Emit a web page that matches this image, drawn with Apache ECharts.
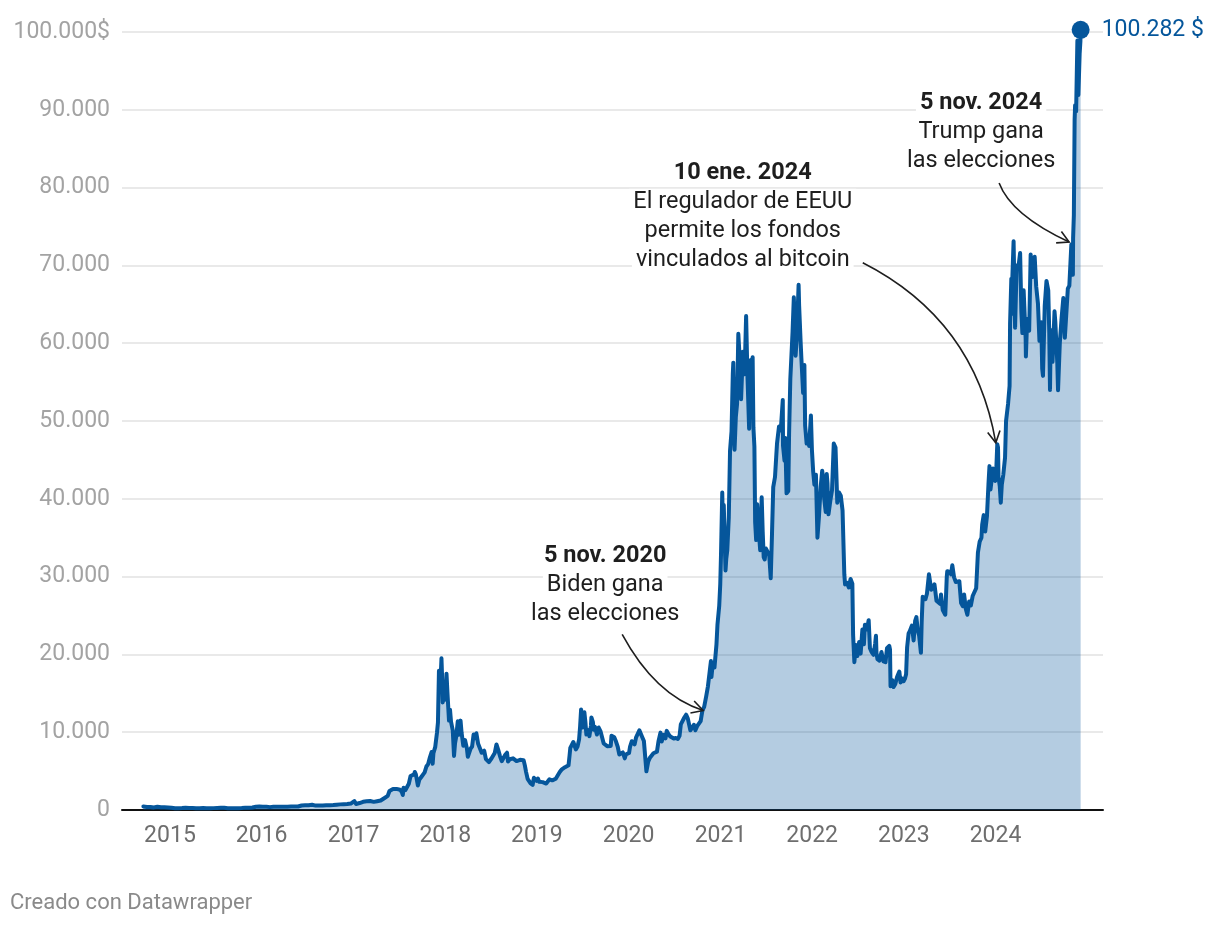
<!DOCTYPE html>
<html>
<head>
<meta charset="utf-8">
<script src="https://cdn.jsdelivr.net/npm/echarts@6/dist/echarts.min.js"></script>
<style>html,body{margin:0;padding:0;background:#fff}#c{width:1220px;height:926px}</style>
</head>
<body>
<div id="c"></div>
<script>
// ---------- DATA (approximate weekly BTC prices, USD) ----------
const btc2014 = [['2014-09-17',457],['2014-09-24',423],['2014-10-01',383],['2014-10-08',352],['2014-10-15',394],['2014-10-22',383],['2014-10-29',334],['2014-11-05',339],['2014-11-12',423],['2014-11-19',380],['2014-11-26',367],['2014-12-03',375],['2014-12-10',345],['2014-12-17',319],['2014-12-24',322],['2014-12-31',320]];
const btc2015 = [['2015-01-07',292],['2015-01-14',178],['2015-01-21',227],['2015-01-28',233],['2015-02-04',227],['2015-02-11',220],['2015-02-18',243],['2015-02-25',237],['2015-03-04',276],['2015-03-11',296],['2015-03-18',256],['2015-03-25',246],['2015-04-01',247],['2015-04-08',245],['2015-04-15',219],['2015-04-22',235],['2015-04-29',225],['2015-05-06',236],['2015-05-13',242],['2015-05-20',234],['2015-05-27',237],['2015-06-03',225],['2015-06-10',229],['2015-06-17',249],['2015-06-24',241],['2015-07-01',258],['2015-07-08',270],['2015-07-15',285],['2015-07-22',277],['2015-07-29',288],['2015-08-05',281],['2015-08-12',267],['2015-08-19',226],['2015-08-26',224],['2015-09-02',228],['2015-09-09',238],['2015-09-16',229],['2015-09-23',230],['2015-09-30',236],['2015-10-07',246],['2015-10-14',253],['2015-10-21',266],['2015-10-28',304],['2015-11-04',403],['2015-11-11',304],['2015-11-18',335],['2015-11-25',328],['2015-12-02',359],['2015-12-09',417],['2015-12-16',454],['2015-12-23',443],['2015-12-30',426]];
const btc2016 = [['2016-01-06',431],['2016-01-13',432],['2016-01-20',420],['2016-01-27',395],['2016-02-03',368],['2016-02-10',381],['2016-02-17',422],['2016-02-24',423],['2016-03-02',422],['2016-03-09',412],['2016-03-16',416],['2016-03-23',418],['2016-03-30',414],['2016-04-06',421],['2016-04-13',424],['2016-04-20',441],['2016-04-27',446],['2016-05-04',447],['2016-05-11',452],['2016-05-18',454],['2016-05-25',450],['2016-06-01',536],['2016-06-08',581],['2016-06-15',694],['2016-06-22',597],['2016-06-29',640],['2016-07-06',611],['2016-07-13',653],['2016-07-20',665],['2016-07-27',654],['2016-08-03',566],['2016-08-10',592],['2016-08-17',574],['2016-08-24',580],['2016-08-31',575],['2016-09-07',614],['2016-09-14',609],['2016-09-21',596],['2016-09-28',605],['2016-10-05',612],['2016-10-12',636],['2016-10-19',630],['2016-10-26',678],['2016-11-02',742],['2016-11-09',723],['2016-11-16',744],['2016-11-23',740],['2016-11-30',742],['2016-12-07',767],['2016-12-14',779],['2016-12-21',834],['2016-12-28',975]];
const btc2017 = [['2017-01-04',1154],['2017-01-11',777],['2017-01-18',871],['2017-01-25',893],['2017-02-01',989],['2017-02-08',1055],['2017-02-15',1008],['2017-02-22',1126],['2017-03-01',1222],['2017-03-08',1150],['2017-03-15',1253],['2017-03-22',1045],['2017-03-29',1040],['2017-04-05',1134],['2017-04-12',1218],['2017-04-19',1217],['2017-04-26',1318],['2017-05-03',1507],['2017-05-10',1756],['2017-05-17',1809],['2017-05-24',2446],['2017-05-31',2303],['2017-06-07',2693],['2017-06-14',2444],['2017-06-21',2709],['2017-06-28',2589],['2017-07-05',2602],['2017-07-12',2334],['2017-07-16',1930],['2017-07-19',2864],['2017-07-26',2544],['2017-08-02',2725],['2017-08-09',3379],['2017-08-16',4376],['2017-08-23',4137],['2017-08-30',4579],['2017-09-02',4892],['2017-09-06',4597],['2017-09-14',3154],['2017-09-20',3906],['2017-09-27',4212],['2017-10-04',4225],['2017-10-11',4829],['2017-10-18',5590],['2017-10-25',5904],['2017-11-01',6767],['2017-11-08',7459],['2017-11-12',5950],['2017-11-15',7315],['2017-11-22',8077],['2017-11-29',9889],['2017-12-03',11246],['2017-12-07',17899],['2017-12-10',15455],['2017-12-13',16408],['2017-12-17',19497],['2017-12-20',16624],['2017-12-22',13831],['2017-12-27',15838],['2017-12-31',14156]];
const btc2018 = [['2018-01-03',15201],['2018-01-06',17527],['2018-01-10',14973],['2018-01-16',11490],['2018-01-20',12899],['2018-01-24',11359],['2018-01-31',10221],['2018-02-05',6955],['2018-02-09',8556],['2018-02-14',9494],['2018-02-20',11403],['2018-02-24',9664],['2018-03-03',11489],['2018-03-07',9951],['2018-03-14',8270],['2018-03-18',8224],['2018-03-21',8989],['2018-03-28',7960],['2018-04-01',6844],['2018-04-06',6636],['2018-04-12',7895],['2018-04-18',8163],['2018-04-24',9697],['2018-04-30',9241],['2018-05-05',9858],['2018-05-12',8504],['2018-05-19',8247],['2018-05-26',7355],['2018-05-29',7502],['2018-06-05',7625],['2018-06-12',6545],['2018-06-19',6742],['2018-06-24',6162],['2018-06-29',6184],['2018-07-04',6620],['2018-07-10',6385],['2018-07-17',7322],['2018-07-24',8425],['2018-07-31',7730],['2018-08-07',6933],['2018-08-14',6274],['2018-08-21',6489],['2018-08-28',7096],['2018-09-04',7367],['2018-09-08',6225],['2018-09-15',6519],['2018-09-21',6750],['2018-09-28',6644],['2018-10-05',6595],['2018-10-12',6291],['2018-10-19',6480],['2018-10-26',6446],['2018-11-02',6390],['2018-11-09',6411],['2018-11-14',5738],['2018-11-19',4871],['2018-11-22',4451],['2018-11-25',4009],['2018-12-01',4214],['2018-12-07',3419],['2018-12-15',3236],['2018-12-20',4134],['2018-12-24',4014],['2018-12-31',3743]];
const btc2019 = [['2019-01-05',4041],['2019-01-10',3629],['2019-01-17',3617],['2019-01-24',3584],['2019-01-31',3458],['2019-02-07',3400],['2019-02-14',3570],['2019-02-20',3940],['2019-02-24',3833],['2019-03-03',3810],['2019-03-10',3922],['2019-03-17',4025],['2019-03-24',3990],['2019-04-02',4880],['2019-04-09',5175],['2019-04-16',5250],['2019-04-23',5500],['2019-04-30',5350],['2019-05-07',5750],['2019-05-11',6990],['2019-05-14',7990],['2019-05-20',8000],['2019-05-26',8740],['2019-05-30',8660],['2019-06-05',7790],['2019-06-12',8170],['2019-06-18',9080],['2019-06-22',10700],['2019-06-26',12930],['2019-06-28',12400],['2019-07-02',10590],['2019-07-09',12570],['2019-07-13',11330],['2019-07-17',9700],['2019-07-22',10300],['2019-07-29',9500],['2019-08-04',10800],['2019-08-06',11900],['2019-08-12',11300],['2019-08-15',10300],['2019-08-20',10700],['2019-08-28',9700],['2019-09-04',10600],['2019-09-11',10150],['2019-09-18',10200],['2019-09-24',8550],['2019-10-01',8300],['2019-10-08',8200],['2019-10-15',8160],['2019-10-22',8240],['2019-10-25',9550],['2019-10-29',9430],['2019-11-05',9340],['2019-11-12',8800],['2019-11-19',8100],['2019-11-25',7140],['2019-12-02',7300],['2019-12-09',7400],['2019-12-17',6640],['2019-12-21',7140],['2019-12-28',7300]];
const btc2020 = [['2020-01-03',7340],['2020-01-07',8160],['2020-01-14',8840],['2020-01-19',8700],['2020-01-25',8440],['2020-01-31',9350],['2020-02-06',9750],['2020-02-10',9850],['2020-02-13',10240],['2020-02-18',10180],['2020-02-25',9320],['2020-03-02',8870],['2020-03-07',8910],['2020-03-12',4970],['2020-03-16',5010],['2020-03-19',6190],['2020-03-26',6730],['2020-04-02',6810],['2020-04-09',7300],['2020-04-16',7120],['2020-04-23',7500],['2020-04-29',8800],['2020-05-07',9950],['2020-05-12',8800],['2020-05-18',9670],['2020-05-27',9210],['2020-06-01',10170],['2020-06-08',9750],['2020-06-15',9450],['2020-06-22',9650],['2020-06-29',9190],['2020-07-07',9250],['2020-07-15',9130],['2020-07-22',9530],['2020-07-27',11000],['2020-08-02',11050],['2020-08-10',11890],['2020-08-17',12250],['2020-08-24',11750],['2020-08-31',11680],['2020-09-03',10240],['2020-09-10',10370],['2020-09-17',10950],['2020-09-23',10250],['2020-09-30',10780],['2020-10-07',10600],['2020-10-14',11430],['2020-10-21',12800],['2020-10-28',13270],['2020-11-05',14600],['2020-11-12',15900],['2020-11-19',17800],['2020-11-24',19150],['2020-11-26',17100],['2020-12-01',18800],['2020-12-08',18320],['2020-12-16',21300],['2020-12-20',23850],['2020-12-27',26270],['2020-12-31',29000]];
const btc2021 = [['2021-01-03',32780],['2021-01-08',40800],['2021-01-11',35500],['2021-01-14',39200],['2021-01-21',30800],['2021-01-24',32300],['2021-01-28',33400],['2021-02-03',37600],['2021-02-08',46200],['2021-02-14',48700],['2021-02-19',56000],['2021-02-21',57500],['2021-02-26',46300],['2021-03-03',50500],['2021-03-08',52200],['2021-03-13',61200],['2021-03-17',58900],['2021-03-24',52800],['2021-03-31',58900],['2021-04-07',56000],['2021-04-13',63500],['2021-04-18',56200],['2021-04-25',49000],['2021-04-30',57800],['2021-05-03',56600],['2021-05-09',58200],['2021-05-12',49200],['2021-05-16',46700],['2021-05-19',37000],['2021-05-23',34700],['2021-05-27',39300],['2021-06-01',36600],['2021-06-08',33400],['2021-06-14',40200],['2021-06-18',35800],['2021-06-22',32500],['2021-06-26',32200],['2021-07-01',33600],['2021-07-07',33800],['2021-07-14',32800],['2021-07-20',29800],['2021-07-25',35400],['2021-07-30',41500],['2021-08-06',42800],['2021-08-14',47100],['2021-08-22',49300],['2021-08-29',48800],['2021-09-06',52700],['2021-09-07',46800],['2021-09-13',44900],['2021-09-16',47800],['2021-09-21',40700],['2021-09-28',41000],['2021-10-01',48200],['2021-10-06',55400],['2021-10-15',61500],['2021-10-20',65900],['2021-10-27',58400],['2021-11-01',61000],['2021-11-08',67500],['2021-11-10',64900],['2021-11-16',60200],['2021-11-19',58100],['2021-11-26',53600],['2021-12-01',57200],['2021-12-04',49400],['2021-12-10',47100],['2021-12-16',47700],['2021-12-20',46800],['2021-12-27',50700],['2021-12-31',46300]];
const btc2022 = [['2022-01-05',43500],['2022-01-10',41800],['2022-01-16',43100],['2022-01-22',35000],['2022-01-28',37700],['2022-02-04',41600],['2022-02-10',43600],['2022-02-14',42500],['2022-02-18',40000],['2022-02-24',38300],['2022-02-28',43200],['2022-03-03',42000],['2022-03-07',38000],['2022-03-14',39700],['2022-03-21',41100],['2022-03-28',47100],['2022-04-04',46600],['2022-04-11',39500],['2022-04-18',40800],['2022-04-25',40400],['2022-05-02',38500],['2022-05-09',30300],['2022-05-12',29000],['2022-05-20',29200],['2022-05-27',28600],['2022-06-03',29700],['2022-06-10',29100],['2022-06-13',22500],['2022-06-18',19000],['2022-06-24',21200],['2022-06-30',19800],['2022-07-07',21600],['2022-07-13',20100],['2022-07-20',23200],['2022-07-26',21300],['2022-07-30',23800],['2022-08-07',23200],['2022-08-14',24400],['2022-08-19',20800],['2022-08-26',20300],['2022-09-02',19950],['2022-09-09',21400],['2022-09-12',22400],['2022-09-14',20200],['2022-09-18',19400],['2022-09-26',19200],['2022-10-04',20300],['2022-10-12',19100],['2022-10-20',19000],['2022-10-26',20800],['2022-11-04',21100],['2022-11-07',20600],['2022-11-09',15900],['2022-11-16',16700],['2022-11-21',15800],['2022-11-28',16200],['2022-12-05',17100],['2022-12-14',17800],['2022-12-19',16400],['2022-12-26',16900],['2022-12-31',16550]];
const btc2023 = [['2023-01-05',16850],['2023-01-10',17450],['2023-01-14',20900],['2023-01-20',22700],['2023-01-25',23000],['2023-02-02',23700],['2023-02-09',21800],['2023-02-15',24300],['2023-02-20',24800],['2023-02-25',23200],['2023-03-03',22400],['2023-03-10',20200],['2023-03-13',24100],['2023-03-17',27400],['2023-03-22',27300],['2023-03-28',27100],['2023-04-03',27800],['2023-04-11',30300],['2023-04-14',30500],['2023-04-20',28300],['2023-04-26',28400],['2023-05-03',29000],['2023-05-11',26900],['2023-05-18',26800],['2023-05-25',26500],['2023-05-29',27700],['2023-06-05',25700],['2023-06-12',25900],['2023-06-15',25100],['2023-06-21',30000],['2023-06-23',30700],['2023-07-01',30600],['2023-07-08',30300],['2023-07-13',31450],['2023-07-20',29900],['2023-07-27',29300],['2023-08-03',29200],['2023-08-10',29400],['2023-08-17',26600],['2023-08-24',26200],['2023-08-29',27700],['2023-09-05',25800],['2023-09-11',25100],['2023-09-18',26800],['2023-09-25',26300],['2023-10-02',27500],['2023-10-09',27600],['2023-10-16',28500],['2023-10-23',33100],['2023-10-30',34500],['2023-11-06',35000],['2023-11-09',36700],['2023-11-15',37900],['2023-11-21',35800],['2023-11-28',37800],['2023-12-04',41900],['2023-12-08',44200],['2023-12-12',41200],['2023-12-17',41400],['2023-12-22',43900],['2023-12-27',43400],['2023-12-31',42300]];
const btc2024 = [['2024-01-03',42800],['2024-01-08',47000],['2024-01-11',46600],['2024-01-13',42800],['2024-01-18',41600],['2024-01-22',39500],['2024-01-26',41800],['2024-02-01',43100],['2024-02-08',45300],['2024-02-12',50000],['2024-02-20',52200],['2024-02-26',54500],['2024-02-28',62500],['2024-03-04',68300],['2024-03-05',63800],['2024-03-08',68300],['2024-03-13',73100],['2024-03-19',62000],['2024-03-25',70000],['2024-04-01',69700],['2024-04-08',71600],['2024-04-13',64000],['2024-04-17',61300],['2024-04-22',66800],['2024-04-30',60600],['2024-05-01',58300],['2024-05-06',63100],['2024-05-14',61600],['2024-05-20',71400],['2024-05-27',68500],['2024-06-05',71100],['2024-06-11',67300],['2024-06-18',65100],['2024-06-24',60300],['2024-07-01',62700],['2024-07-05',56700],['2024-07-08',55800],['2024-07-15',64800],['2024-07-22',68000],['2024-07-29',66800],['2024-08-02',61400],['2024-08-05',54000],['2024-08-08',61700],['2024-08-15',57600],['2024-08-23',64100],['2024-08-26',62800],['2024-09-03',57500],['2024-09-06',53950],['2024-09-13',60000],['2024-09-20',63200],['2024-09-27',65800],['2024-10-03',60700],['2024-10-10',60600],['2024-10-15',67000],['2024-10-21',67400],['2024-10-29',72700],['2024-11-04',68800],['2024-11-05',73500],['2024-11-08',76500],['2024-11-11',88700],['2024-11-13',90600],['2024-11-17',89800],['2024-11-22',98900],['2024-11-26',91900],['2024-12-01',97200],['2024-12-04',98800],['2024-12-05',100282]];

const yearTickLabels = [2015, 2016, 2017, 2018, 2019, 2020, 2021, 2022, 2023, 2024];
const annotations = [
  { date: '2020-11-05', value: 12800, title: '5 nov. 2020', lines: ['Biden gana', 'las elecciones'] },
  { date: '2024-01-10', value: 47200, title: '10 ene. 2024', lines: ['El regulador de EEUU', 'permite los fondos', 'vinculados al bitcoin'] },
  { date: '2024-11-05', value: 73000, title: '5 nov. 2024', lines: ['Trump gana', 'las elecciones'] }
];
const footerText = 'Creado con Datawrapper';

// ---------- LAYOUT / STYLE ----------
const annotationLayout = [
  { tip: [-3, 0], text: [-101, -154], start: [-84, -76], cp: [-51, -15] },
  { tip: [-2, 0], text: [-255, -270], start: [-135, -180], cp: [-23, -123] },
  { tip: [-4, 0], text: [-92, -139], start: [-74, -59], cp: [-62, -27] }
];
const BLUE = '#05569b';
const FONT = 'Roboto, "Noto Sans", sans-serif';

function ts(s) { const p = s.split('-').map(Number); return new Date(p[0], p[1] - 1, p[2]).getTime(); }
function fmt(v) { return String(Math.round(v)).replace(/\B(?=(\d{3})+(?!\d))/g, '.'); }

const series = [].concat(btc2014, btc2015, btc2016, btc2017, btc2018, btc2019, btc2020, btc2021, btc2022, btc2023, btc2024)
  .map(d => [ts(d[0]), d[1]]);
const last = series[series.length - 1];

const chart = echarts.init(document.getElementById('c'), null, { renderer: 'canvas' });
chart.setOption({
  animation: false,
  backgroundColor: '#fff',
  grid: { left: 122, right: 117, top: 32, bottom: 116, containLabel: false },
  xAxis: {
    type: 'value',
    min: ts('2014-06-24'),
    max: ts('2025-03-04'),
    axisLine: { show: true, lineStyle: { color: '#111', width: 2 } },
    axisTick: { show: false },
    splitLine: { show: false },
    axisLabel: {
      customValues: yearTickLabels.map(y => new Date(y, 0, 1).getTime()),
      formatter: v => String(new Date(v).getFullYear()),
      color: '#6e6e6e', fontSize: 23, fontFamily: FONT, margin: 15, hideOverlap: false
    }
  },
  yAxis: {
    type: 'value',
    min: 0, max: 100000, interval: 10000,
    axisLine: { show: false },
    axisTick: { show: false },
    splitLine: { show: true, lineStyle: { color: '#e2e2e2', width: 1.5 } },
    axisLabel: {
      formatter: v => v === 100000 ? fmt(v) + '$' : fmt(v),
      color: '#a3a3a3', fontSize: 23, fontFamily: FONT, margin: 12
    }
  },
  series: [{
    type: 'line',
    data: series,
    clip: false,
    showSymbol: false,
    symbol: 'none',
    lineStyle: { color: BLUE, width: 4, join: 'round', cap: 'round' },
    itemStyle: { color: BLUE },
    areaStyle: { color: BLUE, opacity: 0.3, origin: 'start' },
    z: 3
  }, {
    type: 'scatter',
    data: [last],
    clip: false,
    symbol: 'circle',
    symbolSize: 18,
    itemStyle: { color: BLUE, opacity: 1 },
    label: {
      show: true, position: 'right', distance: 12,
      formatter: p => fmt(p.value[1]) + ' $',
      color: BLUE, fontSize: 23, fontFamily: FONT
    },
    z: 5
  }]
});

// ---------- ANNOTATIONS ----------
const g = [];
annotations.forEach((a, i) => {
  const L = annotationLayout[i];
  const p = chart.convertToPixel({ gridIndex: 0 }, [ts(a.date), a.value]);
  const tip = [p[0] + L.tip[0], p[1] + L.tip[1]];
  const tx = p[0] + L.text[0], ty = p[1] + L.text[1];
  [a.title].concat(a.lines).forEach((t, k) => {
    g.push({
      type: 'text', z: 100, x: tx, y: ty + k * 29,
      style: {
        text: t, fill: '#1e1e1e', align: 'center', verticalAlign: 'middle',
        fontSize: 23.5, fontWeight: k === 0 ? 'bold' : 'normal', fontFamily: FONT,
        backgroundColor: '#fff', padding: [1, 4]
      }
    });
  });
  const s = [p[0] + L.start[0], p[1] + L.start[1]];
  const c = [p[0] + L.cp[0], p[1] + L.cp[1]];
  g.push({
    type: 'bezierCurve', z: 100,
    shape: { x1: s[0], y1: s[1], x2: tip[0], y2: tip[1], cpx1: c[0], cpy1: c[1] },
    style: { stroke: '#1e1e1e', lineWidth: 1.6, fill: null }
  });
  const dx = c[0] - tip[0], dy = c[1] - tip[1];
  const len = Math.sqrt(dx * dx + dy * dy);
  const ux = dx / len, uy = dy / len;
  const ang = 0.5, al = 13;
  const rot = (x, y, t) => [x * Math.cos(t) - y * Math.sin(t), x * Math.sin(t) + y * Math.cos(t)];
  const a1 = rot(ux, uy, ang), a2 = rot(ux, uy, -ang);
  g.push({
    type: 'polyline', z: 100,
    shape: { points: [[tip[0] + a1[0] * al, tip[1] + a1[1] * al], tip, [tip[0] + a2[0] * al, tip[1] + a2[1] * al]] },
    style: { stroke: '#1e1e1e', lineWidth: 1.6, fill: null }
  });
});
g.push({
  type: 'text', x: 10, y: 903,
  style: { text: footerText, fill: '#8a8a8a', fontSize: 22, fontFamily: FONT, align: 'left', verticalAlign: 'middle' }
});
chart.setOption({ graphic: g });
</script>
</body>
</html>
